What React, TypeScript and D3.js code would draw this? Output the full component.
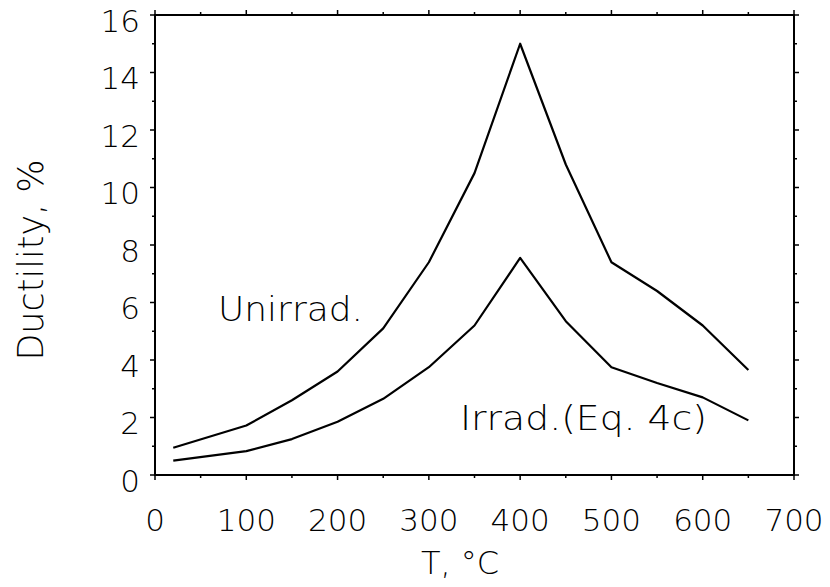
import React, { useEffect, useRef } from "react";
import * as d3 from "d3";

const temps = [20, 100, 150, 200, 250, 300, 350, 400, 450, 500, 550, 600, 650];
const unirrad = [0.95, 1.72, 2.6, 3.6, 5.1, 7.4, 10.5, 15.0, 10.8, 7.4, 6.4, 5.2, 3.65];
const irrad = [0.5, 0.83, 1.25, 1.85, 2.65, 3.75, 5.2, 7.55, 5.35, 3.75, 3.2, 2.7, 1.9];
const xTicks = [0, 100, 200, 300, 400, 500, 600, 700];
const yTicks = [0, 2, 4, 6, 8, 10, 12, 14, 16];
const xMinor = [50, 150, 250, 350, 450, 550, 650];
const yMinor = [1, 3, 5, 7, 9, 11, 13, 15];

const W = 830;
const H = 587;
const FONT = "'DejaVu Sans', sans-serif";

export default function App() {
  const ref = useRef<SVGSVGElement>(null);

  useEffect(() => {
    const svg = d3.select(ref.current);
    svg.selectAll("*").remove();
    const x = d3.scaleLinear().domain([0, 700]).range([155, 794]);
    const y = d3.scaleLinear().domain([0, 16]).range([475, 15]);

    const g = svg.append("g");

    // frame
    g.append("rect")
      .attr("x", x(0)).attr("y", y(16))
      .attr("width", x(700) - x(0)).attr("height", y(0) - y(16))
      .attr("fill", "none").attr("stroke", "#000").attr("stroke-width", 2);

    const tick = (x1: number, y1: number, x2: number, y2: number) =>
      g.append("line").attr("x1", x1).attr("y1", y1).attr("x2", x2).attr("y2", y2)
        .attr("stroke", "#000").attr("stroke-width", 1.5);

    xTicks.forEach((t) => { tick(x(t), y(0), x(t), y(0) + 5); tick(x(t), y(16), x(t), y(16) - 5); });
    xMinor.forEach((t) => { tick(x(t), y(0), x(t), y(0) + 3); tick(x(t), y(16), x(t), y(16) - 3); });
    yTicks.forEach((v) => { tick(x(0), y(v), x(0) - 5, y(v)); tick(x(700), y(v), x(700) + 5, y(v)); });
    yMinor.forEach((v) => { tick(x(0), y(v), x(0) - 3, y(v)); tick(x(700), y(v), x(700) + 3, y(v)); });

    g.selectAll(".xl").data(xTicks).enter().append("text")
      .attr("x", (d) => x(d)).attr("y", 531)
      .attr("text-anchor", "middle")
      .attr("font-family", FONT).attr("font-weight", 200).attr("font-size", 31)
      .text((d) => String(d));

    g.selectAll(".yl").data(yTicks).enter().append("text")
      .attr("x", 140).attr("y", (d) => y(d) + 16.5)
      .attr("text-anchor", "end")
      .attr("font-family", FONT).attr("font-weight", 200).attr("font-size", 31)
      .text((d) => String(d));

    const line = d3.line<number>().x((_, i) => x(temps[i])).y((d) => y(d));
    g.append("path").attr("d", line(unirrad)!).attr("fill", "none")
      .attr("stroke", "#000").attr("stroke-width", 2.2).attr("stroke-linejoin", "round");
    g.append("path").attr("d", line(irrad)!).attr("fill", "none")
      .attr("stroke", "#000").attr("stroke-width", 2.2).attr("stroke-linejoin", "round");

    g.append("text").attr("x", 218).attr("y", 321)
      .attr("font-family", FONT).attr("font-weight", 200).attr("font-size", 34)
      .attr("textLength", 145).attr("lengthAdjust", "spacingAndGlyphs")
      .text("Unirrad.");

    g.append("text").attr("x", 460).attr("y", 430)
      .attr("font-family", FONT).attr("font-weight", 200).attr("font-size", 34)
      .attr("textLength", 247).attr("lengthAdjust", "spacingAndGlyphs")
      .text("Irrad.(Eq. 4c)");

    g.append("text").attr("x", 460).attr("y", 574)
      .attr("text-anchor", "middle")
      .attr("font-family", FONT).attr("font-weight", 200).attr("font-size", 32)
      .text("T, °C");

    g.append("text")
      .attr("transform", "translate(43,260) rotate(-90)")
      .attr("text-anchor", "middle")
      .attr("font-family", FONT).attr("font-weight", 200).attr("font-size", 35)
      .text("Ductility, %");
  }, []);

  return (
    <svg ref={ref} width={W} height={H}
      style={{ position: "absolute", left: 0, top: 0, background: "#fff" }} />
  );
}
